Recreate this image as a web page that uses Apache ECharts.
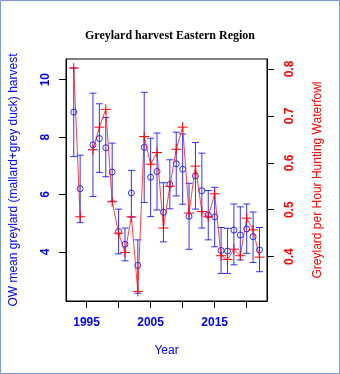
<!DOCTYPE html>
<html>
<head>
<meta charset="utf-8">
<script src="https://cdn.jsdelivr.net/npm/echarts@6/dist/echarts.min.js"></script>
<style>
html,body{margin:0;padding:0;background:#fff;}
#c{width:340px;height:374px;}
</style>
</head>
<body>
<div id="c"></div>
<script>
const years = [1993,1994,1995,1996,1997,1998,1999,2000,2001,2002,2003,2004,2005,2006,2007,2008,2009,2010,2011,2012,2013,2014,2015,2016,2017,2018,2019,2020,2021,2022];
const harvestMean = [8.87,6.20,null,7.73,7.95,7.63,6.78,4.71,4.27,6.05,3.53,7.64,6.60,6.80,5.38,6.35,7.07,6.88,5.24,6.65,6.13,5.28,5.22,4.05,4.03,4.76,4.59,4.80,4.53,4.07];
const harvestLow  = [7.32,5.02,null,5.93,6.77,6.62,5.77,3.93,3.69,5.21,2.56,5.72,5.23,5.46,4.35,5.50,5.95,5.66,4.09,5.49,4.83,4.42,4.18,3.25,3.25,3.55,3.72,3.95,3.63,3.31];
const harvestHigh = [10.41,7.37,null,9.53,9.16,8.68,7.79,5.49,4.83,6.84,4.42,9.56,7.96,8.14,6.41,7.21,8.17,8.11,6.39,7.81,7.44,6.14,6.25,4.85,4.82,5.67,5.57,5.67,5.39,4.85];
const perHour = [0.802,0.485,null,0.628,0.676,0.714,0.517,0.450,0.409,0.485,0.326,0.656,0.597,0.622,0.461,0.550,0.629,0.676,0.493,0.593,0.496,0.485,0.534,0.402,0.394,0.416,0.402,0.482,0.457,0.399];
const xTicks = [1995,2000,2005,2010,2015,2020];
const xLabels = [1995,2005,2015];
const leftTicks = [4,6,8,10];
const rightTicks = [0.4,0.5,0.6,0.7,0.8];

const BLUE = '#0000ff', RED = '#ff0000';
const sans = 'Liberation Sans, Arial, sans-serif';

const ciData = [];
const meanData = [];
const rateData = [];
years.forEach((y,i)=>{
  if (harvestMean[i] !== null) {
    ciData.push([y, harvestLow[i], harvestHigh[i]]);
    meanData.push([y, harvestMean[i]]);
  }
  rateData.push([y, perHour[i] === null ? '-' : perHour[i]]);
});

const chart = echarts.init(document.getElementById('c'), null, {renderer:'canvas'});
chart.setOption({
  animation:false,
  backgroundColor:'#fff',
  title:{
    text:'Greylard harvest Eastern Region',
    left:'center', top:25,
    textStyle:{fontFamily:'Liberation Serif, Times New Roman, serif', fontWeight:'bold', fontSize:12, color:'#000'}
  },
  graphic:[{type:'rect', shape:{x:0.5,y:0.5,width:339,height:373}, style:{fill:'none', stroke:'#7b9bd8', lineWidth:1}, silent:true}],
  grid:{left:59, right:73, top:59, bottom:73, show:true, borderColor:'#000', borderWidth:1, backgroundColor:'transparent'},
  xAxis:{
    type:'value', min:1991.79, max:2023.17,
    name:'Year', nameLocation:'middle', nameGap:44,
    nameTextStyle:{color:BLUE, fontFamily:sans, fontSize:12},
    axisLine:{show:true, lineStyle:{color:'#000', width:1}},
    splitLine:{show:false},
    axisTick:{show:true, length:7, lineStyle:{color:'#000'}, customValues:xTicks},
    axisLabel:{color:BLUE, fontWeight:'bold', fontFamily:sans, fontSize:12, margin:16, customValues:xLabels,
      formatter:v=>String(Math.round(v))}
  },
  yAxis:[{
    type:'value', min:2.29, max:10.72, position:'left',
    name:'OW mean greylard (mallard+grey duck) harvest', nameLocation:'middle', nameGap:46, nameRotate:90,
    nameTextStyle:{color:BLUE, fontFamily:sans, fontSize:12},
    axisLine:{show:true, lineStyle:{color:'#000', width:1}},
    splitLine:{show:false},
    axisTick:{show:true, length:7, lineStyle:{color:'#000'}, customValues:leftTicks},
    axisLabel:{color:BLUE, fontWeight:'bold', fontFamily:sans, fontSize:12, margin:14, rotate:90, customValues:leftTicks,
      formatter:v=>String(Math.round(v))}
  },{
    type:'value', min:0.3055, max:0.8213, position:'right',
    name:'Greylard per Hour Hunting Waterfowl', nameLocation:'middle', nameGap:45, nameRotate:90,
    nameTextStyle:{color:RED, fontFamily:sans, fontSize:12},
    axisLine:{show:true, lineStyle:{color:'#000', width:1}},
    splitLine:{show:false},
    axisTick:{show:true, length:7, lineStyle:{color:'#000'}, customValues:rightTicks},
    axisLabel:{color:RED, fontWeight:'bold', fontFamily:sans, fontSize:12, margin:17, rotate:90, customValues:rightTicks,
      formatter:v=>v.toFixed(1)}
  }],
  series:[{
    type:'custom', yAxisIndex:0, data:ciData, encode:{x:0, y:[1,2]}, z:2,
    renderItem:(params, api)=>{
      const x = api.value(0);
      const pLo = api.coord([x, api.value(1)]);
      const pHi = api.coord([x, api.value(2)]);
      const hw = 3.5;
      const st = {stroke:BLUE, lineWidth:1, opacity:0.8};
      return {type:'group', children:[
        {type:'line', shape:{x1:pLo[0], y1:pLo[1], x2:pHi[0], y2:pHi[1]}, style:st},
        {type:'line', shape:{x1:pLo[0]-hw, y1:pLo[1], x2:pLo[0]+hw, y2:pLo[1]}, style:st},
        {type:'line', shape:{x1:pHi[0]-hw, y1:pHi[1], x2:pHi[0]+hw, y2:pHi[1]}, style:st}
      ]};
    }
  },{
    type:'scatter', yAxisIndex:0, data:meanData, symbol:'circle', symbolSize:6, z:3,
    itemStyle:{color:'rgba(255,255,255,0)', borderColor:BLUE, borderWidth:1}
  },{
    type:'line', yAxisIndex:1, data:rateData, z:4,
    lineStyle:{color:RED, width:1, opacity:0.75},
    symbol:'path://M0,5L10,5M5,0L5,10', symbolSize:10, showSymbol:true,
    itemStyle:{color:'none', borderColor:RED, borderWidth:1}
  }]
});
</script>
</body>
</html>
